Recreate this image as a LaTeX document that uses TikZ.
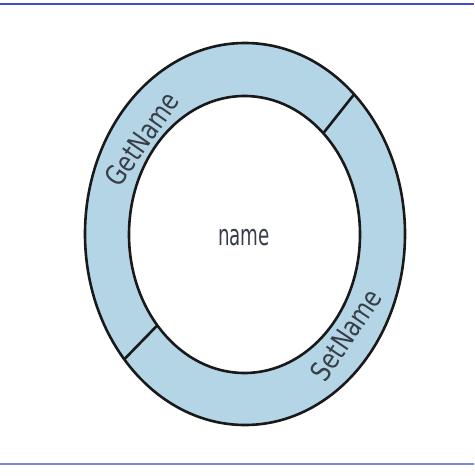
\documentclass[tikz,border=0pt]{standalone}
\usepackage{fontspec}
\usetikzlibrary{calc}
\newfontfamily\ringfont[FakeStretch=0.8]{DejaVu Sans}
\newfontfamily\namefont[FakeStretch=0.63]{DejaVu Sans}
\definecolor{ringblue}{RGB}{180,213,230}
\definecolor{textgray}{RGB}{55,62,72}
\definecolor{rulerblue}{RGB}{62,78,200}
\definecolor{rulerlight}{RGB}{120,135,222}

\begin{document}
\begin{tikzpicture}[
  x=1pt,y=-1pt,
  ring/.style={line width=2.6pt,draw=black!90},
  lbl/.style={inner sep=0pt,text=textgray,font=\ringfont\fontsize{28}{30}\selectfont},
  mid/.style={inner sep=0pt,text=textgray,font=\namefont\fontsize{29}{31}\selectfont},
  rule/.style={line width=2pt}
]
\useasboundingbox (0,0) rectangle (474,476);
% ================= frame lines =================
\coordinate (tl) at (0,4.5);
\coordinate (tr) at (474,4.5);
\coordinate (bl) at (0,463.5);
\coordinate (br) at (474,463.5);
\draw[rule,rulerblue] (tl) -- (tr);
\draw[rule,rulerlight] (bl) -- (br);
% ================= ring =================
\coordinate (c) at (245,234);
\fill[ringblue,even odd rule] (c) ellipse [x radius=160pt,y radius=191pt]
  (244.5,234.5) ellipse [x radius=115.5pt,y radius=138.5pt];
\draw[ring] (c) ellipse [x radius=160pt,y radius=191pt];
\draw[ring] (244.5,234.5) ellipse [x radius=115.5pt,y radius=138.5pt];
% dividers
\coordinate (o1) at ($(c)+(47:160pt and 191pt)$);
\coordinate (i1) at ($(244.5,234.5)+(47:115.5pt and 138.5pt)$);
\coordinate (o2) at ($(c)+(221:160pt and 191pt)$);
\coordinate (i2) at ($(244.5,234.5)+(221:115.5pt and 138.5pt)$);
\draw[ring] (o1) -- (i1);
\draw[ring] (o2) -- (i2);
% ================= labels =================
\node[lbl,rotate=55] (getname) at (142,139) {GetName};
\node[lbl,rotate=56] (setname) at (346,335) {SetName};
\node[mid] (name) at (244,238) {name};
\end{tikzpicture}
\end{document}
